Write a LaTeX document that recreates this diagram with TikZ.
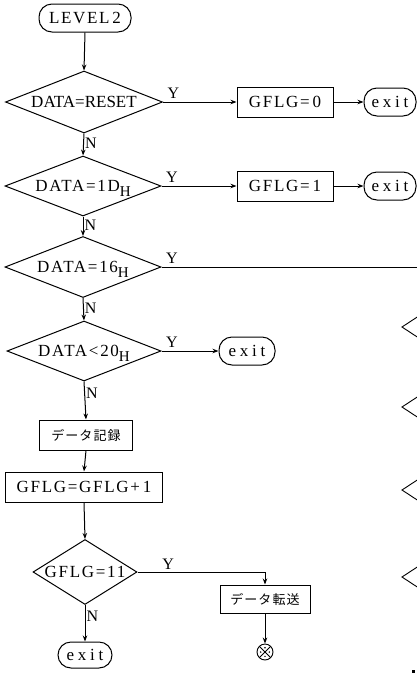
\documentclass[tikz,border=0pt]{standalone}
\usepackage{fontspec}
\setmainfont{Liberation Serif}
\newfontfamily\spaced[LetterSpace=10]{Liberation Serif}
\newfontfamily\wide[LetterSpace=22]{Liberation Serif}
\newfontfamily\jpfont[LetterSpace=8]{Noto Sans CJK JP}
\usetikzlibrary{shapes.geometric,arrows.meta}
\newcommand{\subH}{\smash{\raisebox{-5pt}{\fontsize{15}{15}\selectfont H}}}
\begin{document}
\begin{tikzpicture}[x=1pt,y=-1pt,
  every node/.style={font=\fontsize{17}{17}\selectfont},
  term/.style={draw, rectangle, rounded corners=13pt, line width=1pt, inner sep=0pt, minimum height=28pt},
  proc/.style={draw, rectangle, line width=1pt, inner sep=0pt, minimum height=30pt},
  dec/.style={draw, diamond, line width=1pt, inner sep=0pt},
  arr/.style={line width=1pt, -{Stealth[length=6pt,width=4.5pt]}},
  conn/.style={line width=1pt},
  lbl/.style={font=\fontsize{16}{16}\selectfont, inner sep=1pt},
  jp/.style={font=\jpfont\fontsize{13}{13}\selectfont}]
\useasboundingbox (0,0) rectangle (417,673);

% start
\node[term, minimum width=92pt] (lv) at (85,18) {\spaced LEVEL\,2};

% first test: reset
\node[dec, minimum width=157pt, minimum height=62pt, aspect=2.5] (d1) at (84,102) {DATA=RESET};
\node[proc, minimum width=96pt] (g0) at (285,102) {\spaced GFLG=\,0};
\node[term, minimum width=52pt] (x1) at (390,102) {\wide exit};

% second test: 1D hex
\node[dec, minimum width=156pt, minimum height=60pt, aspect=2.5] (d2) at (83,186) {\spaced DATA=1D\subH};
\node[proc, minimum width=96pt] (g1) at (285,186) {\spaced GFLG=\,1};
\node[term, minimum width=52pt] (x2) at (390,186) {\wide exit};

% third test: 16 hex
\node[dec, minimum width=156pt, minimum height=61pt, aspect=2.5] (d3) at (83,267) {\spaced DATA=16\subH};
\coordinate (off) at (417,267);

% fourth test: below 20 hex
\node[dec, minimum width=154pt, minimum height=60pt, aspect=2.5] (d4) at (84,351) {\spaced DATA<20\subH};
\node[term, minimum width=56pt] (x3) at (247,351) {\wide exit};

% record and count
\node[proc, jp, minimum width=93pt] (rec) at (86,435) {データ記録};
\node[proc, minimum width=157pt] (inc) at (84,487) {\spaced GFLG=GFLG+\,1};

% count test
\node[dec, minimum width=104pt, minimum height=65pt, aspect=1.6] (d5) at (85,572) {\spaced GFLG=11};
\node[proc, jp, minimum width=90pt, minimum height=28pt] (tr) at (265,599) {データ転送};
\node[draw, circle, line width=0.9pt, minimum size=16pt, inner sep=0pt,
  path picture={
    \draw[line width=0.8pt] (path picture bounding box.north west) -- (path picture bounding box.south east)
                            (path picture bounding box.north east) -- (path picture bounding box.south west);
    \foreach \dx/\dy in {0/4.3,0/-4.3,4.3/0,-4.3/0}
      \fill ([shift={(\dx,\dy)}]path picture bounding box.center) circle (0.8pt);
  }] (ot) at (265,652) {};
\node[term, minimum width=54pt, minimum height=26pt] (x4) at (85,655) {\wide exit};

% flow
\draw[arr] (lv.south) -- (d1.north);
\draw[arr] (d1.east) -- node[lbl, pos=0, anchor=south west, xshift=3pt, yshift=2pt] {Y} (g0.west);
\draw[arr] (g0.east) -- (x1.west);
\draw[arr] (d1.south) -- node[lbl, right, pos=0.45] {N} (d2.north);

\draw[arr] (d2.east) -- node[lbl, pos=0, anchor=south west, xshift=3pt, yshift=2pt] {Y} (g1.west);
\draw[arr] (g1.east) -- (x2.west);
\draw[arr] (d2.south) -- node[lbl, right, pos=0.45] {N} (d3.north);

\draw[conn] (d3.east) -- node[lbl, pos=0, anchor=south west, xshift=3pt, yshift=2pt] {Y} (off);
\draw[arr] (d3.south) -- node[lbl, right, pos=0.45] {N} (d4.north);

\draw[arr] (d4.east) -- node[lbl, pos=0, anchor=south west, xshift=3pt, yshift=2pt] {Y} (x3.west);
\draw[arr] (d4.south) -- node[lbl, right, pos=0.3] {N} (rec.north);

\draw[arr] (rec.south) -- (inc.north);
\draw[arr] (inc.south) -- (d5.north);

\draw[arr] (d5.east) -| node[lbl, pos=0.12, above, yshift=1pt] {Y} (tr.north);
\draw[arr] (tr.south) -- (ot.north);
\draw[arr] (d5.south) -- node[lbl, right, pos=0.3] {N} (x4.north);

% neighbouring column, cut by the page edge
\foreach \yy in {327,407,490,577}
  \draw[line width=0.9pt] (418,\yy-10.5) -- (402,\yy) -- (418,\yy+10.5);
\fill (412,670) rectangle (415,673);
\end{tikzpicture}
\end{document}
